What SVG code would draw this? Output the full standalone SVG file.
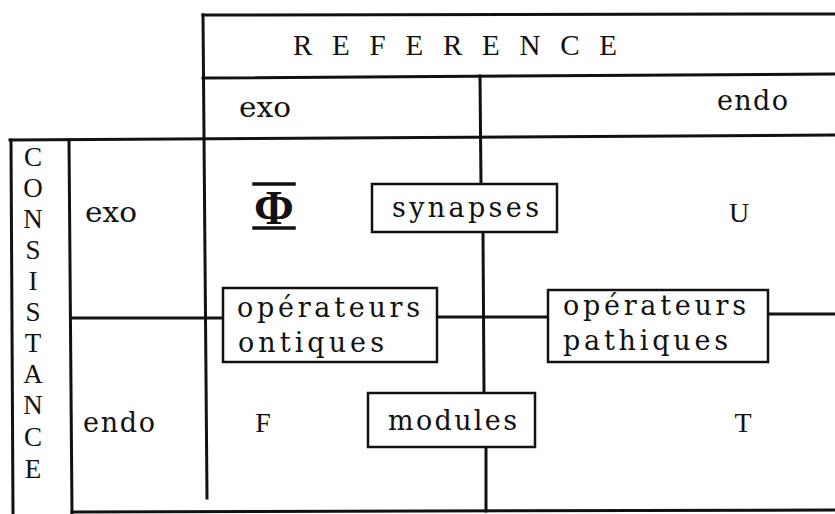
<svg xmlns="http://www.w3.org/2000/svg" width="835" height="514" viewBox="0 0 835 514">
<style>
.ln{stroke:#111;stroke-width:3;fill:none;stroke-linecap:square}
.bx{stroke:#111;stroke-width:2.5;fill:#fff}
.mono{font-family:"DejaVu Serif","Liberation Serif",serif;font-size:27px;fill:#111}
.cap{font-family:"Liberation Serif","Times New Roman",serif;font-size:28px;fill:#111}
.side{font-family:"Liberation Serif","Times New Roman",serif;font-size:27px;fill:#111}
</style>
<rect x="0" y="0" width="835" height="514" fill="#fff"/>
<g id="frame">
<line class="ln" x1="203" y1="15" x2="835" y2="14"/>
<line class="ln" x1="203" y1="78" x2="835" y2="74"/>
<line class="ln" x1="10" y1="140" x2="835" y2="135"/>
<line class="ln" x1="203" y1="15" x2="207" y2="498"/>
<line class="ln" x1="11" y1="140" x2="13" y2="514"/>
<line class="ln" x1="69" y1="140" x2="72" y2="514"/>
<line class="ln" x1="72" y1="512" x2="835" y2="510"/>
</g>
<g id="connectors">
<line class="ln" x1="72" y1="318" x2="223" y2="318"/>
<line class="ln" x1="437" y1="317" x2="548" y2="317"/>
<line class="ln" x1="768" y1="314" x2="835" y2="314"/>
<line class="ln" x1="480" y1="76" x2="481" y2="184"/>
<line class="ln" x1="483" y1="232" x2="484" y2="393"/>
<line class="ln" x1="486" y1="447" x2="486" y2="511"/>
</g>
<g id="header">
<text class="cap" x="293" y="55" textLength="324" lengthAdjust="spacing" style="font-size:29px">R E F E R E N C E</text>
<text class="mono" x="239" y="117" textLength="52" lengthAdjust="spacingAndGlyphs">exo</text>
<text class="mono" x="717" y="110" textLength="71" lengthAdjust="spacing">endo</text>
</g>
<g id="side">
<g class="side" text-anchor="middle">
<text x="33" y="166">C</text>
<text x="33" y="197">O</text>
<text x="33" y="228">N</text>
<text x="33" y="259">S</text>
<text x="33" y="290">I</text>
<text x="33" y="321">S</text>
<text x="33" y="352">T</text>
<text x="33" y="383">A</text>
<text x="33" y="414">N</text>
<text x="33" y="446">C</text>
<text x="33" y="478">E</text>
</g>
<text class="mono" x="85" y="222" textLength="52" lengthAdjust="spacingAndGlyphs">exo</text>
<text class="mono" x="83" y="432" textLength="72" lengthAdjust="spacing">endo</text>
</g>
<g id="phi">
<line class="ln" x1="254" y1="184" x2="294" y2="184" style="stroke-width:3.5"/>
<line class="ln" x1="254" y1="228" x2="294" y2="228" style="stroke-width:3.5"/>
<text x="274" y="224" text-anchor="middle" style="font-family:'Liberation Serif',serif;font-size:48px;font-weight:bold;fill:#111">Φ</text>
</g>
<g id="U"><text class="cap" x="739" y="222" text-anchor="middle">U</text></g>
<g id="F"><text class="cap" x="263" y="432" text-anchor="middle">F</text></g>
<g id="T"><text class="cap" x="743" y="432" text-anchor="middle">T</text></g>
<g id="synapses">
<rect class="bx" x="372" y="184" width="185" height="48"/>
<text class="mono" x="392" y="217" textLength="147" lengthAdjust="spacing">synapses</text>
</g>
<g id="operateurs-ontiques">
<rect class="bx" x="223" y="288" width="214" height="74"/>
<text class="mono" x="237" y="317" textLength="183" lengthAdjust="spacing">opérateurs</text>
<text class="mono" x="238" y="352" textLength="146" lengthAdjust="spacing">ontiques</text>
</g>
<g id="operateurs-pathiques">
<rect class="bx" x="548" y="290" width="220" height="72"/>
<text class="mono" x="563" y="315" textLength="183" lengthAdjust="spacing">opérateurs</text>
<text class="mono" x="563" y="350" textLength="165" lengthAdjust="spacing">pathiques</text>
</g>
<g id="modules">
<rect class="bx" x="368" y="393" width="167" height="54"/>
<text class="mono" x="388" y="430" textLength="129" lengthAdjust="spacing">modules</text>
</g>
</svg>
